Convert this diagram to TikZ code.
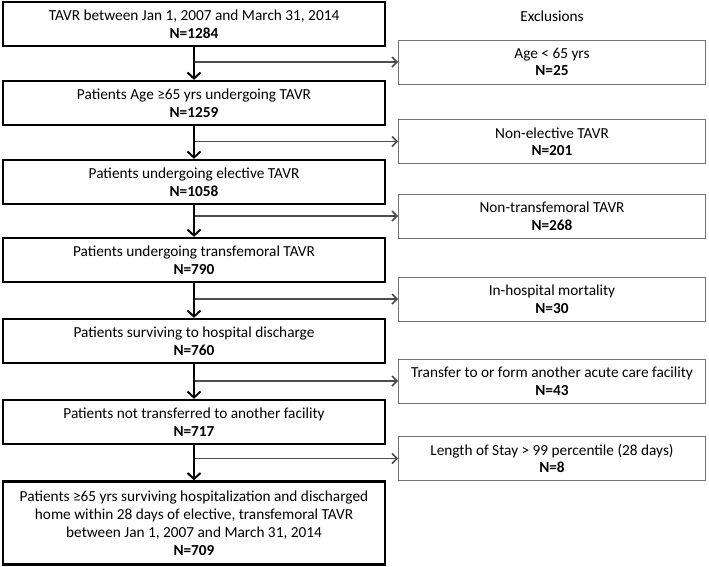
\documentclass[tikz,border=0pt]{standalone}
\usepackage{fontspec}
\setmainfont{Carlito}
\usetikzlibrary{arrows.meta}
\begin{document}
\begin{tikzpicture}[x=1pt,y=-1pt,
  mainbox/.style={draw=black, line width=2.3pt, minimum width=382pt, minimum height=44pt,
    align=center, inner sep=0pt, font=\fontsize{15.3}{18}\selectfont},
  exbox/.style={draw=black!55, line width=0.9pt, minimum width=307pt, minimum height=44pt,
    align=center, inner sep=0pt, font=\fontsize{15.3}{17.5}\selectfont},
  varrow/.style={draw=black, line width=2pt, -{Straight Barb[length=6pt,width=13pt]}},
  harrow/.style={draw=black!70, line width=1.5pt, -{Straight Barb[length=5pt,width=10pt]}},
  title/.style={font=\fontsize{15.3}{18}\selectfont}
]
\useasboundingbox (0,0) rectangle (709,566);
\fill[white] (0,0) rectangle (709,566);

\node[mainbox] (m1) at (194,24) {TAVR between Jan 1, 2007 and March 31, 2014\\\textbf{N=1284}};
\node[mainbox] (m2) at (194,103) {Patients Age ≥65 yrs undergoing TAVR\\\textbf{N=1259}};
\node[mainbox] (m3) at (194,182) {Patients undergoing elective TAVR\\\textbf{N=1058}};
\node[mainbox] (m4) at (194,260) {Patients undergoing transfemoral TAVR\\\textbf{N=790}};
\node[mainbox] (m5) at (194,341) {Patients surviving to hospital discharge\\\textbf{N=760}};
\node[mainbox] (m6) at (194,422) {Patients not transferred to another facility\\\textbf{N=717}};
\node[mainbox, minimum height=83pt] (m7) at (194,523) {Patients ≥65 yrs surviving hospitalization and discharged\\home within 28 days of elective, transfemoral TAVR\\between Jan 1, 2007 and March 31, 2014\\\textbf{N=709}};

\node[title] (exc) at (552,16) {Exclusions};
\node[exbox] (e1) at (552,62) {Age < 65 yrs\\\textbf{N=25}};
\node[exbox] (e2) at (552,141.5) {Non-elective TAVR\\\textbf{N=201}};
\node[exbox] (e3) at (552,216) {Non-transfemoral TAVR\\\textbf{N=268}};
\node[exbox] (e4) at (552,299) {In-hospital mortality\\\textbf{N=30}};
\node[exbox] (e5) at (552,381) {Transfer to or form another acute care facility\\\textbf{N=43}};
\node[exbox] (e6) at (552,458.5) {Length of Stay > 99 percentile (28 days)\\\textbf{N=8}};

\foreach \i in {1,...,6} {
  \coordinate (b\i) at (m\i.south |- e\i.west);
}
\foreach \i/\j in {1/2,2/3,3/4,4/5,5/6,6/7} {
  \draw[harrow] (b\i) -- (e\i.west);
  \draw[varrow] (m\i.south) -- (m\j.north);
}
\end{tikzpicture}
\end{document}
